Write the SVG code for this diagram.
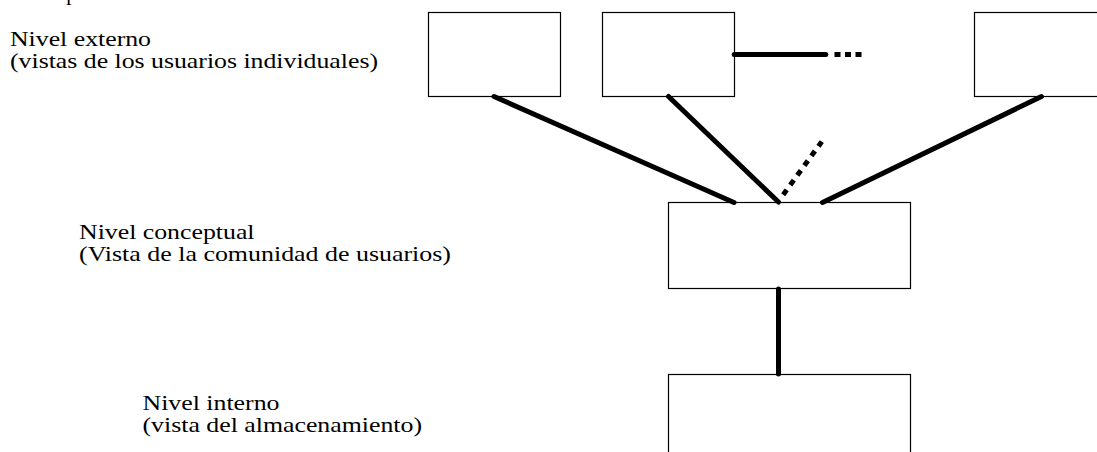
<svg xmlns="http://www.w3.org/2000/svg" width="1097" height="452" viewBox="0 0 1097 452">
<style>
text{font-family:"Liberation Serif","Times New Roman",serif;font-size:21px;fill:#000}
.box{fill:#fff;stroke:#000;stroke-width:1.2}
.c{fill:none;stroke:#000;stroke-width:5;stroke-linecap:round}
.d{fill:none;stroke:#000;stroke-width:5;stroke-linecap:butt}
</style>
<rect width="1097" height="452" fill="#fff"/>
<g id="labels">
<text x="66.2" y="-0.5">p</text>
<text x="10" y="46" textLength="141" lengthAdjust="spacingAndGlyphs">Nivel externo</text>
<text x="10" y="68" textLength="368" lengthAdjust="spacingAndGlyphs">(vistas de los usuarios individuales)</text>
<text x="79" y="238.5" textLength="175.5" lengthAdjust="spacingAndGlyphs">Nivel conceptual</text>
<text x="79" y="260.5" textLength="372" lengthAdjust="spacingAndGlyphs">(Vista de la comunidad de usuarios)</text>
<text x="142.5" y="410" textLength="137" lengthAdjust="spacingAndGlyphs">Nivel interno</text>
<text x="142.5" y="432" textLength="279.5" lengthAdjust="spacingAndGlyphs">(vista del almacenamiento)</text>
</g>
<g id="externo1"><rect class="box" x="428.5" y="12.5" width="132" height="84"/></g>
<g id="externo2"><rect class="box" x="602.5" y="12.5" width="132" height="84"/></g>
<g id="externo3"><rect class="box" x="974.5" y="12.5" width="132" height="84"/></g>
<g id="conceptual"><rect class="box" x="668.5" y="202.5" width="242" height="86"/></g>
<g id="interno"><rect class="box" x="668.5" y="374.5" width="242" height="90"/></g>
<g id="connectors">
<line class="c" x1="494" y1="96.5" x2="734" y2="202.5"/>
<line class="c" x1="668.5" y1="96.5" x2="778.5" y2="202"/>
<line class="c" x1="1041.5" y1="96.5" x2="822.5" y2="202.5"/>
<line class="d" x1="783.2" y1="194.7" x2="821.8" y2="141.6" stroke-dasharray="6 6"/>
<line class="c" x1="734.2" y1="54.5" x2="825.8" y2="54.5"/>
<line class="d" x1="834.5" y1="54.5" x2="861.5" y2="54.5" stroke-dasharray="6 4.5"/>
<line class="c" x1="778.5" y1="289" x2="778.5" y2="374"/>
</g>
</svg>
